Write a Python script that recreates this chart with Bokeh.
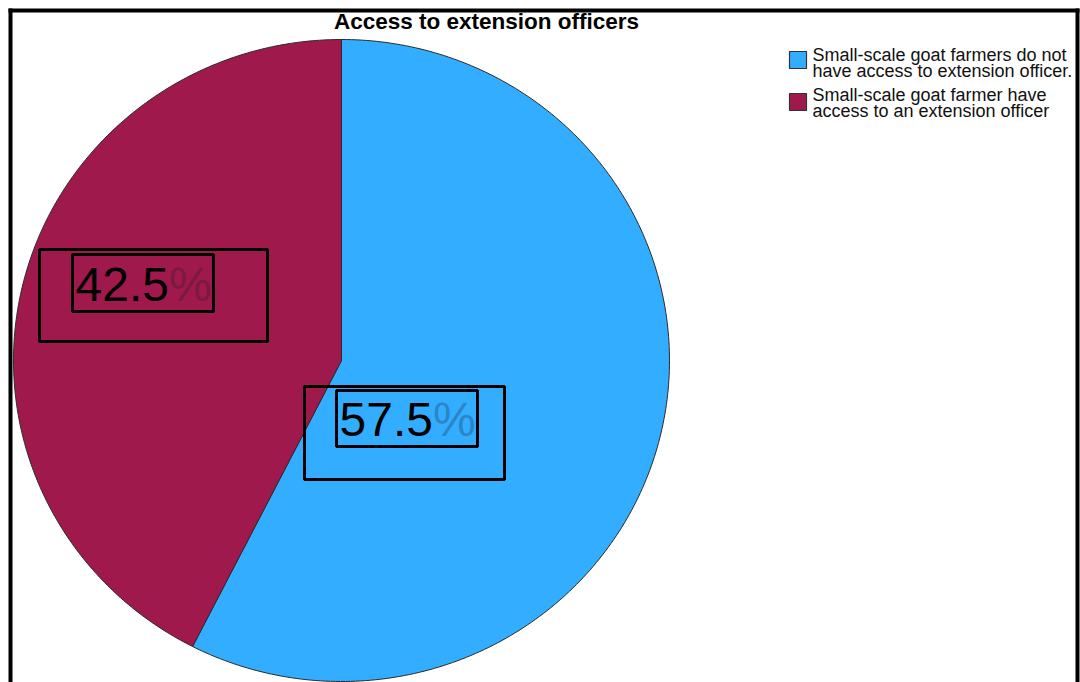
from bokeh.plotting import figure
from bokeh.models import Range1d
from bokeh.core.properties import value
from bokeh.embed import file_html
from bokeh.resources import INLINE
import numpy as np

# ---- data ----
title = "Access to extension officers"
categories = ["Small-scale goat farmers do not\nhave access to extension officer.",
              "Small-scale goat farmer have\naccess to an extension officer"]
percents = [57.5, 42.5]
colors = ["#33ADFF", "#A0194D"]
pct_colors = ["#2A86C6", "#7A1A40"]

# ---- layout constants (pixel coords, y downward) ----
W, H = 1080, 682
cx, cy, rx, ry = 341, 360, 328, 321
FONT = value("Liberation Sans")

p = figure(width=W, height=H, output_backend="svg", toolbar_location=None,
           x_range=Range1d(0, W), y_range=Range1d(H, 0), min_border=0)
p.axis.visible = False
p.grid.visible = False
p.outline_line_color = None
p.background_fill_color = "white"

# pie slices: clockwise from 12 o'clock
start = 0.0
xs, ys = [], []
for pct in percents:
    end = start + pct / 100 * 2 * np.pi
    t = np.linspace(start, end, 240)
    xs.append(list(np.concatenate([[cx], cx + rx * np.sin(t), [cx]])))
    ys.append(list(np.concatenate([[cy], cy - ry * np.cos(t), [cy]])))
    start = end
p.patches(xs, ys, fill_color=colors, line_color="#2b2b2b", line_width=1)

# frame (left, top, right)
p.segment(x0=[10, 8, 1077], y0=[8, 10, 8], x1=[10, 1079, 1077], y1=[H, 10, H],
          line_color="black", line_width=4)

# title
p.text(x=[486], y=[21], text=[title], text_font=FONT, text_font_size="22.5px",
       text_font_style="bold", text_align="center", text_baseline="middle",
       text_color="black")

# percentage labels with boxes
label_pos = [(339, 419), (75, 284)]
inner_boxes = [(336, 477, 390, 446), (72, 213, 254, 311)]
outer_boxes = [(304, 504, 386, 479), (39, 267, 249, 341)]
num_w = 1.946 * 48
for i, pct in enumerate(percents):
    lx, ly = label_pos[i]
    p.text(x=[lx], y=[ly], text=[f"{pct:.1f}"], text_font=FONT, text_font_size="48px",
           text_baseline="middle", text_align="left", text_color="black")
    p.text(x=[lx + num_w], y=[ly], text=["%"], text_font=FONT, text_font_size="48px",
           text_baseline="middle", text_align="left", text_color=pct_colors[i])
    for (l, r, t, b) in (inner_boxes[i], outer_boxes[i]):
        p.quad(left=[l], right=[r], top=[t], bottom=[b], fill_alpha=0,
               line_color="black", line_width=3)

# legend
sw_tops = [51, 93]
line_mid = [[54, 70], [94, 110]]
for i, cat in enumerate(categories):
    p.quad(left=[789], right=[806], top=[sw_tops[i]], bottom=[sw_tops[i] + 17],
           fill_color=colors[i], line_color="#333333", line_width=1.2)
    for j, line in enumerate(cat.split("\n")):
        p.text(x=[812], y=[line_mid[i][j]], text=[line], text_font=FONT,
               text_font_size="18px", text_baseline="middle",
               text_align="left", text_color="#111111")

open("out.html", "w").write(file_html(p, INLINE))
